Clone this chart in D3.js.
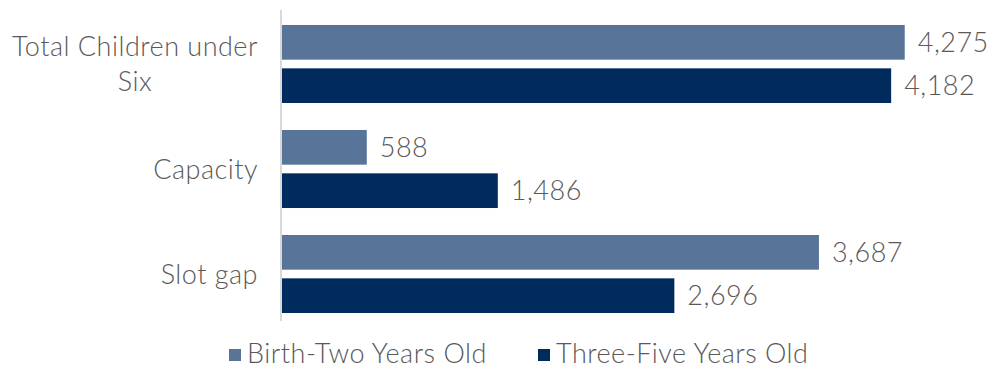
<!DOCTYPE html>
<html>
<head>
<meta charset="utf-8">
<script src="https://cdn.jsdelivr.net/npm/d3@7"></script>
<style>
  body { margin: 0; background: #fff; }
  text { font-family: Lato, "Open Sans", sans-serif; font-weight: 300; fill: #595959; letter-spacing: 0.5px; }
</style>
</head>
<body>
<script>
var categories = ["Total Children under Six", "Capacity", "Slot gap"],
    seriesNames = ["Birth-Two Years Old", "Three-Five Years Old"],
    birthTwo = [4275, 588, 3687],
    threeFive = [4182, 1486, 2696],
    colors = ["#587498", "#012b5d"];

var width = 989, height = 368,
    plotLeft = 281, plotTop = 11.5, plotBottom = 326.5,
    fontSize = "27px";

var data = categories.map(function (c, i) {
    return {cat: c, values: [birthTwo[i], threeFive[i]]};
});

var svg = d3.select("body").append("svg")
    .attr("width", width)
    .attr("height", height);

var x = d3.scaleLinear().domain([0, 5000]).range([plotLeft, plotLeft + 729.5]);

var y = d3.scaleBand()
    .domain(categories)
    .range([plotTop, plotBottom])
    .paddingInner(0.257)
    .paddingOuter(0.1285);

var y1 = d3.scaleBand()
    .domain([0, 1])
    .range([0, y.bandwidth()])
    .paddingInner(0.2);

var groups = svg.selectAll(".grp")
    .data(data)
    .enter()
    .append("g")
    .attr("class", "grp")
    .attr("transform", function (d) { return "translate(0," + y(d.cat) + ")"; });

groups.selectAll("rect")
    .data(function (d) { return d.values; })
    .enter()
    .append("rect")
    .attr("x", x(0))
    .attr("y", function (d, i) { return y1(i); })
    .attr("width", function (d) { return x(d) - x(0); })
    .attr("height", y1.bandwidth())
    .style("fill", function (d, i) { return colors[i]; });

groups.selectAll(".val")
    .data(function (d) { return d.values; })
    .enter()
    .append("text")
    .attr("class", "val")
    .attr("x", function (d) { return x(d) + 13; })
    .attr("y", function (d, i) { return y1(i) + y1.bandwidth() / 2; })
    .attr("dy", "0.36em")
    .style("font-size", fontSize)
    .text(function (d) { return d3.format(",")(d); });

// axis line
svg.append("line")
    .attr("x1", plotLeft).attr("x2", plotLeft)
    .attr("y1", 10).attr("y2", 321)
    .style("stroke", "#d9d9d9")
    .style("stroke-width", 2);

// category labels (first one wraps)
var catLines = [["Total Children under", "Six"], ["Capacity"], ["Slot gap"]];
groups.append("text")
    .attr("class", "cat")
    .attr("text-anchor", "middle")
    .style("font-size", fontSize)
    .each(function (d, i) {
        var lines = catLines[i],
            t = d3.select(this),
            lh = 35,
            cy = y.bandwidth() / 2 - (lines.length - 1) * lh / 2;
        lines.forEach(function (s, j) {
            t.append("tspan")
                .attr("x", 0)
                .attr("y", cy + j * lh)
                .attr("dy", "0.36em")
                .text(s);
        });
    });
// right-align the label block at x=258
groups.selectAll(".cat").each(function () {
    var b = this.getBBox();
    d3.select(this).attr("transform", "translate(" + (258 - b.width / 2) + ",0)");
});

// legend
var legend = svg.append("g").attr("transform", "translate(229,354)");
var lx = [0, 309];
seriesNames.forEach(function (s, i) {
    var g = legend.append("g").attr("transform", "translate(" + lx[i] + ",0)");
    g.append("rect").attr("x", 0).attr("y", -5).attr("width", 12).attr("height", 12)
        .style("fill", colors[i]);
    g.append("text").attr("x", 18).attr("y", 0).attr("dy", "0.34em")
        .style("font-size", fontSize)
        .text(s);
});
</script>
</body>
</html>
